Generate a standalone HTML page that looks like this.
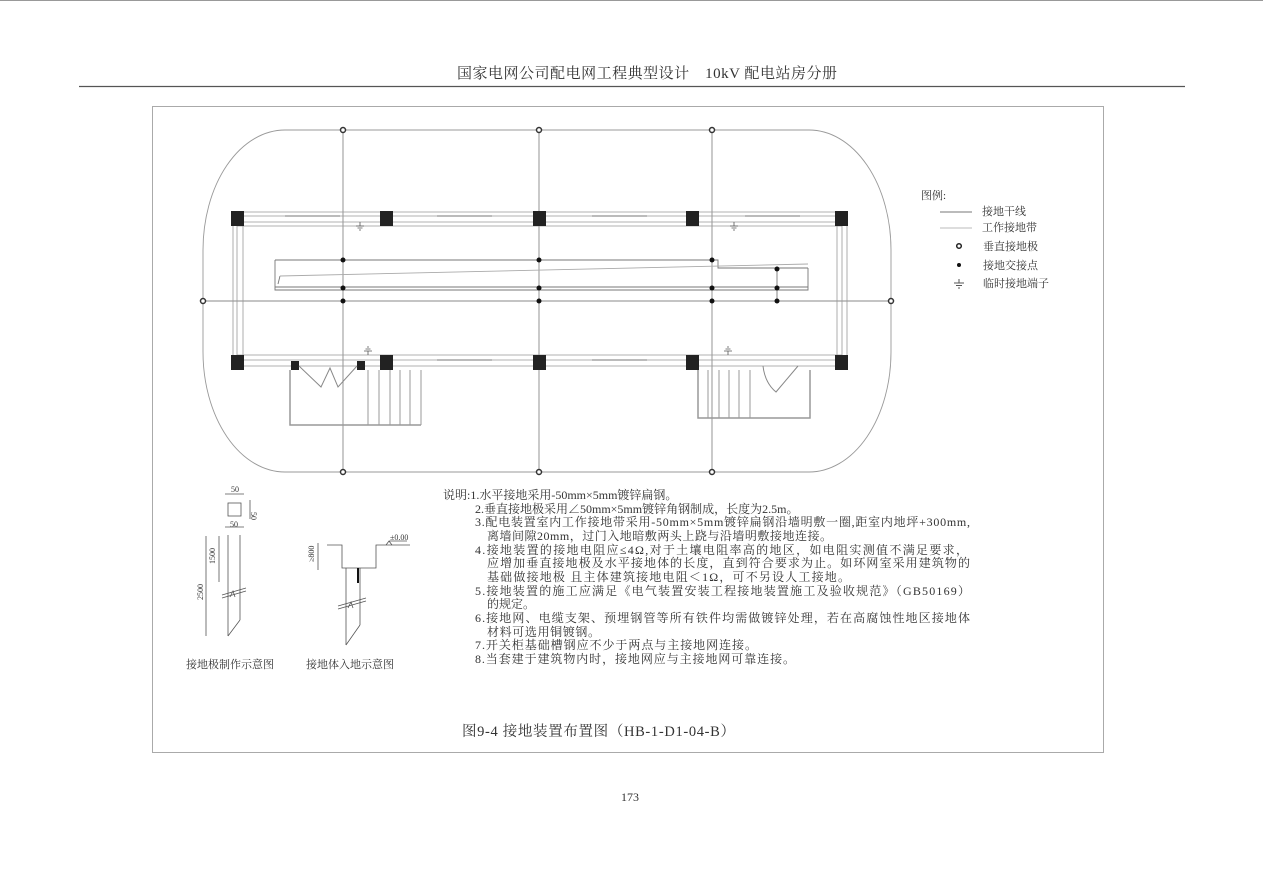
<!DOCTYPE html>
<html><head><meta charset="utf-8">
<style>
html,body{margin:0;padding:0;background:#fff;}
svg{display:block;}
text{font-family:"Liberation Serif","Noto Serif CJK SC",serif;fill:#333;}
</style></head>
<body>
<svg width="1263" height="892" viewBox="0 0 1263 892" xmlns="http://www.w3.org/2000/svg">
<line x1="0" y1="0.5" x2="1263" y2="0.5" stroke="#999"/>
<text x="457" y="78" font-size="15" textLength="380" lengthAdjust="spacing">国家电网公司配电网工程典型设计　10kV 配电站房分册</text>
<line x1="79" y1="86.5" x2="1185" y2="86.5" stroke="#555" stroke-width="1.2"/>
<rect x="152.5" y="106.5" width="951" height="646" fill="none" stroke="#aaa"/>

<rect x="203" y="130" width="688" height="342" rx="82" ry="120" fill="none" stroke="#999" stroke-width="0.9"/>
<g stroke="#888" stroke-width="0.9">
<line x1="343" y1="130" x2="343" y2="472"/>
<line x1="539" y1="130" x2="539" y2="472"/>
<line x1="712" y1="130" x2="712" y2="472"/>
<line x1="203" y1="301" x2="891" y2="301"/>
</g>
<g fill="none" stroke="#999" stroke-width="0.8">
<line x1="237" y1="212" x2="842" y2="212"/>
<line x1="237" y1="216" x2="842" y2="216"/>
<line x1="237" y1="222" x2="842" y2="222"/>
<line x1="237" y1="226" x2="842" y2="226"/>
<line x1="237" y1="355" x2="842" y2="355"/>
<line x1="237" y1="360" x2="842" y2="360"/>
<line x1="237" y1="366" x2="842" y2="366"/>
<line x1="233" y1="218" x2="233" y2="362"/>
<line x1="237" y1="226" x2="237" y2="355"/>
<line x1="243" y1="226" x2="243" y2="355"/>
<line x1="847" y1="218" x2="847" y2="362"/>
<line x1="842" y1="226" x2="842" y2="355"/>
<line x1="837" y1="226" x2="837" y2="355"/>
</g>
<g stroke="#bbb" stroke-width="2">
<line x1="285" y1="216" x2="340" y2="216"/><line x1="437" y1="216" x2="492" y2="216"/>
<line x1="592" y1="216" x2="647" y2="216"/><line x1="745" y1="216" x2="800" y2="216"/>
<line x1="437" y1="360" x2="492" y2="360"/><line x1="592" y1="360" x2="647" y2="360"/>
</g>
<g fill="#222">
<rect x="231" y="211" width="13" height="15"/><rect x="380" y="211" width="13" height="15"/>
<rect x="533" y="211" width="13" height="15"/><rect x="686" y="211" width="13" height="15"/>
<rect x="835" y="211" width="13" height="15"/>
<rect x="231" y="355" width="13" height="15"/><rect x="380" y="355" width="13" height="15"/>
<rect x="533" y="355" width="13" height="15"/><rect x="686" y="355" width="13" height="15"/>
<rect x="835" y="355" width="13" height="15"/>
<rect x="291" y="361" width="8" height="9"/><rect x="357" y="361" width="8" height="9"/>
</g>
<g fill="none" stroke="#777" stroke-width="0.9">
<polyline points="275,260 718,260 718,268 808,268"/>
<polyline points="275,260 275,290 808,290 808,268"/>
<line x1="278" y1="284" x2="280" y2="276"/>
<line x1="280" y1="276" x2="808" y2="264" stroke="#aaa"/>
<line x1="275" y1="287" x2="808" y2="287"/>
<line x1="777" y1="269" x2="777" y2="301"/>
</g>
<g fill="none" stroke="#999">
<polyline points="290,370 290,425 421,425" stroke-width="1.5"/>
<line x1="368" y1="370" x2="368" y2="425"/><line x1="379" y1="370" x2="379" y2="425"/>
<line x1="390" y1="370" x2="390" y2="425"/><line x1="400" y1="370" x2="400" y2="425"/>
<line x1="410" y1="370" x2="410" y2="425"/><line x1="421" y1="370" x2="421" y2="425"/>
<polyline points="299,366 321,387 330,368 338,387 357,366" stroke="#888"/>
</g>
<g fill="none" stroke="#999">
<polyline points="698,370 698,418 810,418 810,370" stroke-width="1.5"/>
<line x1="708" y1="370" x2="708" y2="418"/><line x1="719" y1="370" x2="719" y2="418"/>
<line x1="729" y1="370" x2="729" y2="418"/><line x1="739" y1="370" x2="739" y2="418"/>
<line x1="750" y1="370" x2="750" y2="418"/>
<path d="M763,366 Q765,383 776,392 L798,366" stroke="#888"/>
</g>
<g stroke="#555" stroke-width="0.8" fill="none">
<path d="M360,222 v4 M356,226 h8 M357.5,228 h5 M359,230 h2"/>
<path d="M734,222 v4 M730,226 h8 M731.5,228 h5 M733,230 h2"/>
<path d="M368,355 v-4 M364,351 h8 M365.5,349 h5 M367,347 h2"/>
<path d="M728,355 v-4 M724,351 h8 M725.5,349 h5 M727,347 h2"/>
</g>
<g fill="#fff" stroke="#333" stroke-width="1.5">
<circle cx="343" cy="130" r="2.5"/><circle cx="539" cy="130" r="2.5"/><circle cx="712" cy="130" r="2.5"/>
<circle cx="343" cy="472" r="2.5"/><circle cx="539" cy="472" r="2.5"/><circle cx="712" cy="472" r="2.5"/>
<circle cx="203" cy="301" r="2.5"/><circle cx="891" cy="301" r="2.5"/>
</g>
<g fill="#111">
<circle cx="343" cy="260" r="2.5"/><circle cx="539" cy="260" r="2.5"/><circle cx="712" cy="260" r="2.5"/>
<circle cx="777" cy="269" r="2.5"/>
<circle cx="343" cy="288" r="2.5"/><circle cx="539" cy="288" r="2.5"/><circle cx="712" cy="288" r="2.5"/><circle cx="777" cy="288" r="2.5"/>
<circle cx="343" cy="301" r="2.5"/><circle cx="539" cy="301" r="2.5"/><circle cx="712" cy="301" r="2.5"/><circle cx="777" cy="301" r="2.5"/>
</g>

<text x="921" y="199" font-size="11">图例:</text>
<line x1="940" y1="212" x2="972" y2="212" stroke="#777"/>
<text x="982" y="215" font-size="11">接地干线</text>
<line x1="940" y1="228" x2="972" y2="228" stroke="#bbb"/>
<text x="982" y="231" font-size="11">工作接地带</text>
<circle cx="959" cy="246" r="2.3" fill="#fff" stroke="#222" stroke-width="1.5"/>
<text x="983" y="250" font-size="11">垂直接地极</text>
<circle cx="959" cy="265" r="2" fill="#111"/>
<text x="983" y="269" font-size="11">接地交接点</text>
<path d="M959,279 v4 M954,283 h10 M956,285.5 h6 M958,288 h2" stroke="#555" fill="none"/>
<text x="983" y="287" font-size="11">临时接地端子</text>

<g stroke="#555" fill="none" stroke-width="0.8">
<rect x="228" y="503" width="13" height="13"/>
<line x1="225" y1="494" x2="244" y2="494"/>
<line x1="250" y1="500" x2="250" y2="519"/>
<line x1="228" y1="535" x2="228" y2="636"/>
<line x1="240" y1="535" x2="240" y2="620"/>
<line x1="228" y1="636" x2="240" y2="620"/>
<line x1="225" y1="527" x2="244" y2="527"/>
<line x1="219" y1="536" x2="219" y2="582"/>
<line x1="206" y1="536" x2="206" y2="636"/>
<path d="M222,595 L246,588 M222,598 L246,591 M230,597 l3,-6 l2,6"/>
</g>
<text x="231" y="492" font-size="8">50</text>
<text x="254" y="515" font-size="8" transform="rotate(90 254 512)">50</text>
<text x="230" y="527" font-size="8">50</text>
<text x="215" y="564" font-size="8" transform="rotate(-90 215 564)">1500</text>
<text x="203" y="600" font-size="8" transform="rotate(-90 203 600)">2500</text>
<text x="186" y="668" font-size="11">接地极制作示意图</text>
<g stroke="#555" fill="none" stroke-width="0.8">
<polyline points="327,545 342,545 342,568 376,568 376,545 410,545"/>
<line x1="346" y1="568" x2="346" y2="645"/>
<line x1="360" y1="568" x2="360" y2="625"/>
<line x1="346" y1="645" x2="360" y2="625"/>
<line x1="358" y1="568" x2="358" y2="583" stroke="#111" stroke-width="2"/>
<line x1="318" y1="543" x2="318" y2="570"/>
<path d="M338,606 L366,598 M338,609 L366,601 M348,608 l3,-6 l2,6"/>
<path d="M386,545 l3,-4 l3,4 M389,541 h18"/>
</g>
<text x="314" y="562" font-size="8" transform="rotate(-90 314 562)">≥800</text>
<text x="390" y="540" font-size="8">±0.00</text>
<text x="306" y="668" font-size="11">接地体入地示意图</text>

<g font-size="12">
<text x="443" y="499">说明:1.水平接地采用-50mm×5mm镀锌扁钢。</text>
<text x="475" y="513">2.垂直接地极采用∠50mm×5mm镀锌角钢制成，长度为2.5m。</text>
<text x="475" y="526" textLength="495" lengthAdjust="spacing">3.配电装置室内工作接地带采用-50mm×5mm镀锌扁钢沿墙明敷一圈,距室内地坪+300mm,</text>
<text x="487" y="540" textLength="345" lengthAdjust="spacing">离墙间隙20mm，过门入地暗敷两头上跷与沿墙明敷接地连接。</text>
<text x="475" y="554" textLength="493" lengthAdjust="spacing">4.接地装置的接地电阻应≤4Ω,对于土壤电阻率高的地区，如电阻实测值不满足要求，</text>
<text x="487" y="567" textLength="483" lengthAdjust="spacing">应增加垂直接地极及水平接地体的长度，直到符合要求为止。如环网室采用建筑物的</text>
<text x="487" y="581" textLength="363" lengthAdjust="spacing">基础做接地极 且主体建筑接地电阻＜1Ω，可不另设人工接地。</text>
<text x="475" y="595" textLength="495" lengthAdjust="spacing">5.接地装置的施工应满足《电气装置安装工程接地装置施工及验收规范》（GB50169）</text>
<text x="487" y="608">的规定。</text>
<text x="475" y="622" textLength="495" lengthAdjust="spacing">6.接地网、电缆支架、预埋钢管等所有铁件均需做镀锌处理，若在高腐蚀性地区接地体</text>
<text x="487" y="636" textLength="113" lengthAdjust="spacing">材料可选用铜镀钢。</text>
<text x="475" y="649" textLength="282" lengthAdjust="spacing">7.开关柜基础槽钢应不少于两点与主接地网连接。</text>
<text x="475" y="663" textLength="320" lengthAdjust="spacing">8.当套建于建筑物内时，接地网应与主接地网可靠连接。</text>
</g>
<text x="462" y="736" font-size="14.5" textLength="273" lengthAdjust="spacing">图9-4 接地装置布置图（HB-1-D1-04-B）</text>
<text x="621" y="801" font-size="12">173</text>
</svg>
</body></html>
